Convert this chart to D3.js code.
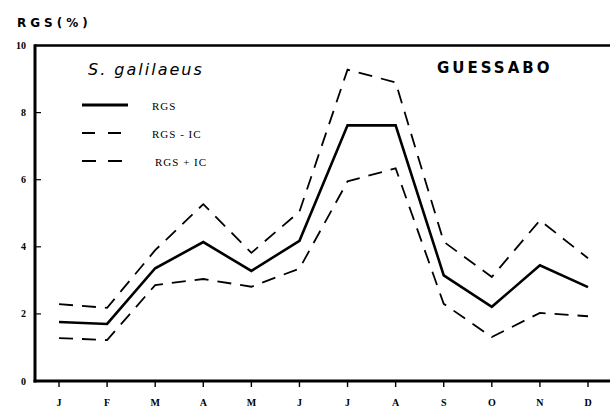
<!DOCTYPE html>
<html><head><meta charset="utf-8">
<script src="https://cdn.jsdelivr.net/npm/d3@7"></script>
<style>body{margin:0;background:#fff}svg{display:block}</style>
</head><body>
<svg id="c" width="610" height="410"></svg>
<script>
const months = ["J","F","M","A","M","J","J","A","S","O","N","D"];
const rgs      = [1.76,1.70,3.36,4.14,3.28,4.18,7.62,7.62,3.15,2.21,3.45,2.80];
const rgsUpper = [2.29,2.18,3.90,5.27,3.82,5.05,9.28,8.90,4.15,3.10,4.79,3.66];
const rgsLower = [1.28,1.22,2.86,3.04,2.81,3.35,5.95,6.34,2.30,1.31,2.03,1.93];
const yTicks = [0,2,4,6,8,10];

const svg = d3.select("#c");
const x = d3.scalePoint().domain(d3.range(months.length)).range([59,588]);
const y = d3.scaleLinear().domain([0,10]).range([381,45.5]);

// frame
svg.append("line").attr("x1",35).attr("x2",610).attr("y1",y(10)).attr("y2",y(10)).attr("stroke","#000").attr("stroke-width",2.6);
svg.append("line").attr("x1",35).attr("x2",35).attr("y1",y(10)-1.3).attr("y2",y(0)+1.5).attr("stroke","#000").attr("stroke-width",3);
svg.append("line").attr("x1",33.5).attr("x2",610).attr("y1",y(0)).attr("y2",y(0)).attr("stroke","#000").attr("stroke-width",3);

// y ticks
const yAxis = svg.append("g");
yTicks.forEach(t=>{
  if(t>0 && t<10) yAxis.append("line").attr("x1",35).attr("x2",41).attr("y1",y(t)).attr("y2",y(t)).attr("stroke","#000").attr("stroke-width",1.2);
  yAxis.append("text").attr("x",26).attr("y",y(t)+3.5).attr("text-anchor","end")
    .attr("font-family","Liberation Serif, serif").attr("font-size",10).attr("font-weight","bold").text(t);
});
// x ticks
months.forEach((m,i)=>{
  svg.append("line").attr("x1",x(i)).attr("x2",x(i)).attr("y1",y(0)).attr("y2",y(0)+6).attr("stroke","#000").attr("stroke-width",1.4);
  svg.append("text").attr("x",x(i)).attr("y",406).attr("text-anchor","middle")
    .attr("font-family","Liberation Serif, serif").attr("font-size",10).attr("font-weight","bold").text(m);
});

// axis title
svg.append("text").attr("x",17).attr("y",27).attr("font-family","DejaVu Sans, sans-serif").attr("font-size",12)
  .attr("font-weight","bold").attr("letter-spacing",4).text("RGS(%)");

const line = d3.line().x((d,i)=>x(i)).y(d=>y(d));
svg.append("path").datum(rgsUpper).attr("d",line).attr("fill","none").attr("stroke","#000").attr("stroke-width",1.8).attr("stroke-dasharray","14,9");
svg.append("path").datum(rgsLower).attr("d",line).attr("fill","none").attr("stroke","#000").attr("stroke-width",1.8).attr("stroke-dasharray","14,9");
svg.append("path").datum(rgs).attr("d",line).attr("fill","none").attr("stroke","#000").attr("stroke-width",2.6).attr("stroke-linejoin","miter");

// titles
svg.append("text").attr("x",88).attr("y",75).attr("font-family","DejaVu Sans, sans-serif").attr("font-size",16)
  .attr("font-style","italic").attr("letter-spacing",2).text("S.  galilaeus");
svg.append("text").attr("x",437).attr("y",73).attr("font-family","DejaVu Sans, sans-serif").attr("font-size",15)
  .attr("font-weight","bold").attr("letter-spacing",3).text("GUESSABO");

// legend
const leg = [{label:"RGS",dash:null,w:2.8,y:105,tx:152},{label:"RGS - IC",dash:"13,13",w:1.8,y:133,tx:152},{label:"RGS + IC",dash:"14,12",w:1.8,y:161,tx:155}];
leg.forEach(l=>{
  const ln = svg.append("line").attr("x1",82).attr("x2",l.dash?123:128).attr("y1",l.y).attr("y2",l.y).attr("stroke","#000").attr("stroke-width",l.w);
  if(l.dash) ln.attr("stroke-dasharray",l.dash);
  svg.append("text").attr("x",l.tx).attr("y",l.y+5).attr("font-family","Liberation Serif, serif").attr("font-size",11)
    .attr("letter-spacing",1).text(l.label);
});
</script>
</body></html>
